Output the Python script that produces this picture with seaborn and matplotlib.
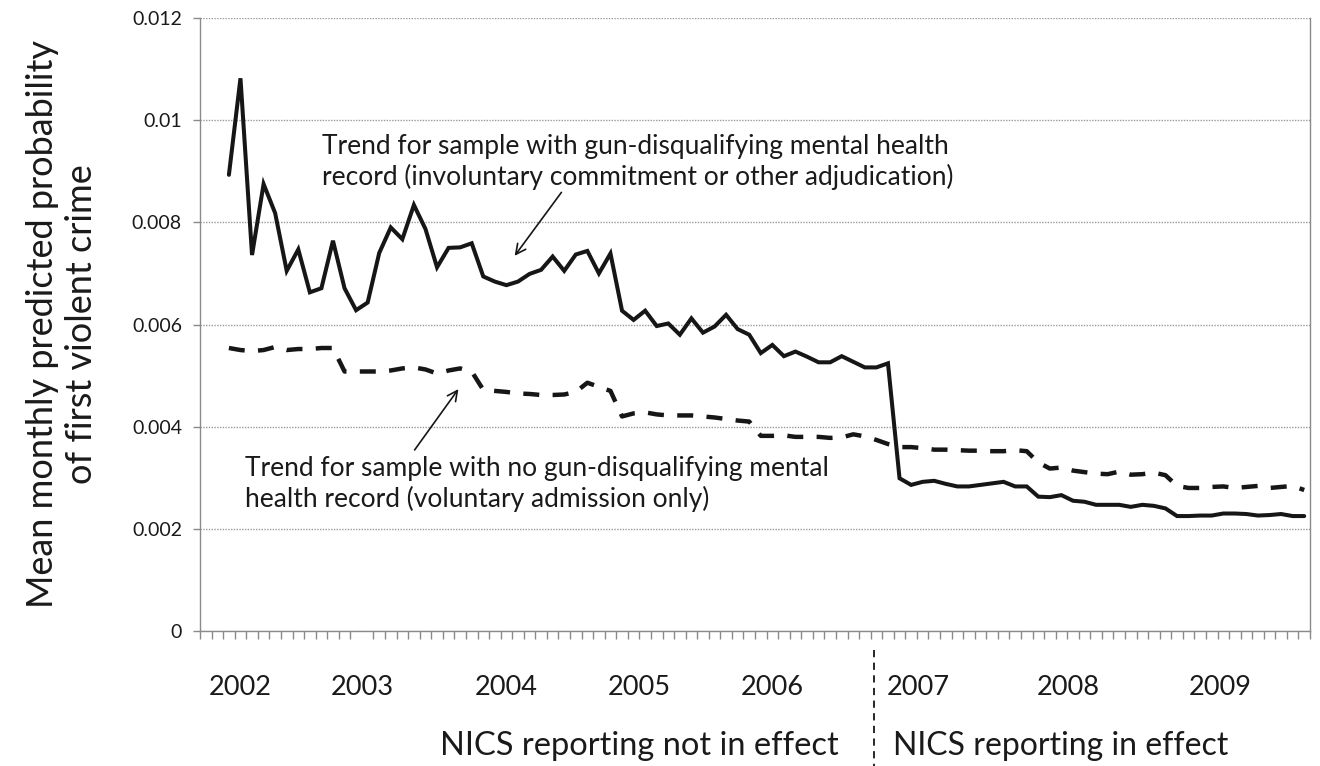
import numpy as np
import pandas as pd
import matplotlib
matplotlib.use("Agg")
import matplotlib.pyplot as plt
import seaborn as sns
from matplotlib.lines import Line2D

# Monthly categories on the x axis (Jan 2002 - Dec 2009); series begin in March 2002
months = pd.period_range("2002-01", "2009-12", freq="M")
first_month = "2002-03"

# Mean monthly predicted probability of first violent crime
adjudicated = [
    0.00893, 0.01082, 0.00736, 0.00875, 0.00818, 0.00705, 0.00747, 0.00663, 0.00671, 0.00764,
    0.00671, 0.00628, 0.00643, 0.00740, 0.00790, 0.00767, 0.00834, 0.00787, 0.00712, 0.00750,
    0.00751, 0.00759, 0.00694, 0.00684, 0.00677, 0.00684, 0.00699, 0.00707, 0.00733, 0.00705,
    0.00737, 0.00744, 0.00700, 0.00739, 0.00627, 0.00609, 0.00627, 0.00597, 0.00602, 0.00580,
    0.00612, 0.00584, 0.00596, 0.00619, 0.00591, 0.00580, 0.00544, 0.00560, 0.00538, 0.00547,
    0.00537, 0.00526, 0.00526, 0.00538, 0.00527, 0.00516, 0.00516, 0.00524, 0.00299, 0.00286,
    0.00292, 0.00294, 0.00288, 0.00283, 0.00283, 0.00286, 0.00289, 0.00292, 0.00283, 0.00283,
    0.00263, 0.00262, 0.00266, 0.00255, 0.00253, 0.00247, 0.00247, 0.00247, 0.00243, 0.00247,
    0.00245, 0.00240, 0.00225, 0.00225, 0.00226, 0.00226, 0.00230, 0.00230, 0.00229, 0.00226,
    0.00227, 0.00229, 0.00225, 0.00225,
]
voluntary = [
    0.00554, 0.00550, 0.00548, 0.00550, 0.00556, 0.00550, 0.00552, 0.00552, 0.00554, 0.00554,
    0.00508, 0.00508, 0.00508, 0.00508, 0.00510, 0.00514, 0.00516, 0.00512, 0.00504, 0.00510,
    0.00514, 0.00508, 0.00472, 0.00470, 0.00468, 0.00465, 0.00464, 0.00462, 0.00462, 0.00463,
    0.00468, 0.00486, 0.00478, 0.00470, 0.00420, 0.00426, 0.00428, 0.00424, 0.00422, 0.00422,
    0.00422, 0.00420, 0.00418, 0.00415, 0.00412, 0.00410, 0.00382, 0.00382, 0.00383, 0.00380,
    0.00380, 0.00380, 0.00378, 0.00379, 0.00385, 0.00381, 0.00374, 0.00366, 0.00360, 0.00360,
    0.00358, 0.00355, 0.00355, 0.00354, 0.00353, 0.00353, 0.00352, 0.00352, 0.00354, 0.00352,
    0.00330, 0.00318, 0.00320, 0.00314, 0.00311, 0.00308, 0.00307, 0.00312, 0.00306, 0.00307,
    0.00310, 0.00305, 0.00284, 0.00280, 0.00280, 0.00282, 0.00283, 0.00280, 0.00282, 0.00284,
    0.00280, 0.00282, 0.00284, 0.00276,
]

year_labels = ["2002", "2003", "2004", "2005", "2006", "2007", "2008", "2009"]
year_label_pos = [2.96, 13.5, 25.96, 37.47, 48.97, 61.6, 74.57, 87.72]
y_ticks = [0, 0.002, 0.004, 0.006, 0.008, 0.010, 0.012]
y_tick_labels = ["0", "0.002", "0.004", "0.006", "0.008", "0.01", "0.012"]
reporting_start_pos = 57.8  # boundary where NICS reporting takes effect

sns.set_theme(style="white")
plt.rcParams["font.family"] = ["Lato", "DejaVu Sans"]

start = months.get_loc(pd.Period(first_month, freq="M"))
pos = np.arange(start, start + len(adjudicated))
df_adj = pd.DataFrame({"month_pos": pos, "prob": adjudicated})
df_vol = pd.DataFrame({"month_pos": pos, "prob": voluntary})

W, H = 1320, 766
fig = plt.figure(figsize=(W / 100, H / 100), dpi=100)
ax = fig.add_axes([200 / W, 135 / H, 1110 / W, 613 / H])

ink = "#161616"
text_col = "#1a1a1a"
sns.lineplot(data=df_adj, x="month_pos", y="prob", ax=ax, color=ink,
             linewidth=2.9, solid_joinstyle="miter")
sns.lineplot(data=df_vol, x="month_pos", y="prob", ax=ax, color=ink,
             linewidth=3.2, linestyle=(0, (3.6, 3.0)), dash_capstyle="butt")

ax.set_xlim(-0.5, len(months) - 0.5)
ax.set_ylim(0, 0.012)
ax.set_xlabel("")
ax.set_ylabel("Mean monthly predicted probability\nof first violent crime",
              fontsize=26, linespacing=1.2, color=text_col)
ax.yaxis.set_label_coords(-0.092, 0.5)

# y axis: dotted gridlines and plain numeric labels
ax.set_yticks(y_ticks, labels=y_tick_labels)
ax.yaxis.grid(True, linestyle=(0, (1, 1)), color="#9a9a9a", linewidth=1.0)
ax.tick_params(axis="y", which="major", left=True, length=5, width=1,
               color="#8a8a8a", labelsize=14, pad=8, labelcolor=text_col)

# x axis: one small tick per month, year labels beneath
ax.set_xticks(np.arange(-0.5, len(months)), minor=True)
ax.set_xticks(year_label_pos, labels=year_labels)
ax.tick_params(axis="x", which="major", length=0, labelsize=19.5, pad=32,
               labelcolor=text_col)
ax.tick_params(axis="x", which="minor", bottom=True, length=6, width=1,
               color="#8a8a8a")

for side in ["left", "bottom", "right"]:
    ax.spines[side].set_color("#8a8a8a")
    ax.spines[side].set_linewidth(1.0)
ax.spines["top"].set_visible(False)

# annotations for the two trend lines
ax.text(10.05, 0.00972,
        "Trend for sample with gun-disqualifying mental health\n"
        "record (involuntary commitment or other adjudication)",
        fontsize=19, linespacing=1.2, va="top", ha="left", color=text_col)
ax.annotate("", xy=(26.57, 0.00730), xytext=(30.9, 0.00863),
            arrowprops=dict(arrowstyle="->", color=ink, lw=1.2,
                            mutation_scale=18))
ax.text(3.39, 0.00342,
        "Trend for sample with no gun-disqualifying mental\n"
        "health record (voluntary admission only)",
        fontsize=19, linespacing=1.2, va="top", ha="left", color=text_col)
ax.annotate("", xy=(21.99, 0.00478), xytext=(17.92, 0.00350),
            arrowprops=dict(arrowstyle="->", color=ink, lw=1.2,
                            mutation_scale=18))

# period labels and the dashed divider below the axis
xdiv = ax.get_xaxis_transform()
ax.add_line(Line2D([reporting_start_pos, reporting_start_pos], [-0.031, -0.23],
                   transform=xdiv, clip_on=False, color=ink, lw=1.3,
                   linestyle=(0, (4, 3))))
ax.text(54.76, -0.187, "NICS reporting not in effect",
        transform=xdiv, ha="right", va="center", fontsize=23.5, color=text_col)
ax.text(59.43, -0.187, "NICS reporting in effect",
        transform=xdiv, ha="left", va="center", fontsize=23, color=text_col)

fig.savefig("out.png", dpi=100)
